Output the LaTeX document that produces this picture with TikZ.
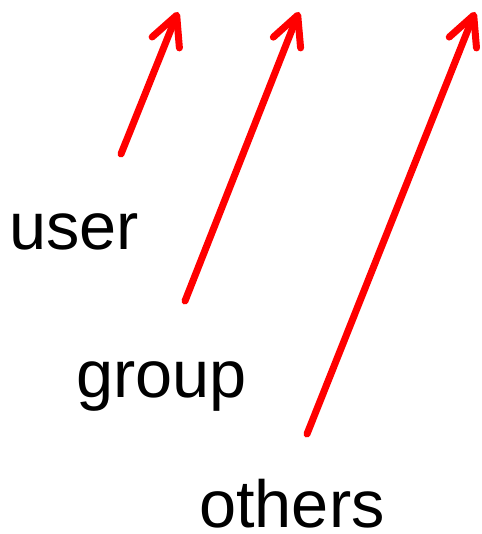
\documentclass[tikz,border=0pt]{standalone}
\usepackage{fontspec}
\setmainfont{Liberation Sans}
\usetikzlibrary{arrows.meta}
\tikzset{
  perm/.style={anchor=base west, inner sep=0pt, font=\fontsize{50}{60}\selectfont},
  pointer/.style={draw=red, line width=5.25pt, line cap=round, line join=round,
    -{Straight Barb[length=22pt, width=22pt, round]}}
}
\begin{document}
\begin{tikzpicture}[x=0.75pt, y=-0.75pt]
  \useasboundingbox (0,0) rectangle (481,534);
  % permission classes
  \node[perm] (user)   at (9,249)   {user};
  \node[perm] (group)  at (76,397)  {group};
  \node[perm] (others) at (199,527) {others};
  % arrow tails and tips
  \coordinate (t1) at (121,154);
  \coordinate (h1) at (178,12);
  \coordinate (t2) at (185,301);
  \coordinate (h2) at (299,12);
  \coordinate (t3) at (307,434);
  \coordinate (h3) at (475,12);
  \draw[pointer] (t1) -- (h1);
  \draw[pointer] (t2) -- (h2);
  \draw[pointer] (t3) -- (h3);
\end{tikzpicture}
\end{document}
